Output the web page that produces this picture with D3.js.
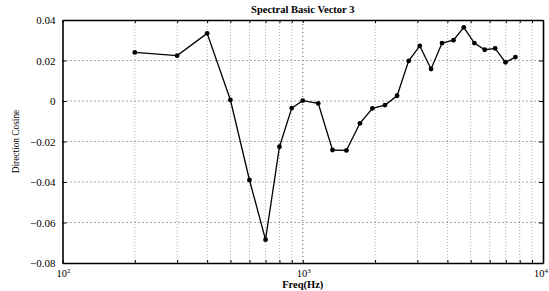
<!DOCTYPE html>
<html>
<head>
<meta charset="utf-8">
<title>Spectral Basic Vector 3</title>
<script src="https://cdnjs.cloudflare.com/ajax/libs/d3/7.8.5/d3.min.js"></script>
<style>
  body { margin: 0; background: #fff; }
  svg { display: block; font-family: "Liberation Serif", "DejaVu Serif", serif; }
  .grid-major line { stroke: #555; stroke-dasharray: 1 3; stroke-width: 1; }
  .grid-minor line { stroke: #aaa; stroke-dasharray: 1 2; stroke-width: 1; }
</style>
</head>
<body>
<div id="chart"></div>
<script>
// frequencies (Hz)
var freq = [200, 300, 400, 500, 600, 700, 800, 900, 1000, 1160, 1330, 1520,
            1730, 1950, 2200, 2470, 2760, 3070, 3420, 3800, 4240, 4680,
            5180, 5720, 6320, 6980, 7680];
// direction cosine values
var cosVal = [0.0240, 0.0224, 0.0334, 0.0005, -0.0390, -0.0685, -0.0226, -0.0035, 0.0002,
              -0.0012, -0.0242, -0.0244, -0.0110, -0.0036, -0.0020, 0.0026, 0.0198,
              0.0272, 0.0158, 0.0286, 0.0300, 0.0364, 0.0286, 0.0253, 0.0260,
              0.0191, 0.0217];
var yTicks = [-0.08, -0.06, -0.04, -0.02, 0, 0.02, 0.04];
var xMajor = [100, 1000, 10000];
var xExp = ["2", "3", "4"];
var xMinor = [200, 300, 400, 500, 600, 700, 800, 900,
              2000, 3000, 4000, 5000, 6000, 7000, 8000, 9000];

var W = 549, H = 291;
var m = {left: 62.5, right: 6, top: 20, bottom: 28};

var svg = d3.select("#chart").append("svg")
  .attr("width", W).attr("height", H);

var x = d3.scaleLog().domain([100, 10000]).range([m.left, W - m.right]);
var y = d3.scaleLinear().domain([-0.08, 0.04]).range([H - m.bottom, m.top]);

// grid
svg.append("g").attr("class", "grid-minor")
  .selectAll("line").data(xMinor).enter().append("line")
  .attr("x1", function(d) { return x(d); }).attr("x2", function(d) { return x(d); })
  .attr("y1", y(0.04)).attr("y2", y(-0.08));

var gMaj = svg.append("g").attr("class", "grid-major");
gMaj.selectAll("line.v").data([1000]).enter().append("line")
  .attr("class", "v")
  .attr("x1", function(d) { return x(d); }).attr("x2", function(d) { return x(d); })
  .attr("y1", y(0.04)).attr("y2", y(-0.08));
gMaj.selectAll("line.h").data(yTicks.slice(1, -1)).enter().append("line")
  .attr("class", "h")
  .attr("x1", x(100)).attr("x2", x(10000))
  .attr("y1", function(d) { return y(d); }).attr("y2", function(d) { return y(d); });

// axes (ticks inward, box on all sides)
var fmtY = function(d) { return d === 0 ? "0" : d3.format(".2f")(d).replace("-", "\u2212"); };
var tickVals = xMajor.concat(xMinor);

var axBottom = svg.append("g").attr("transform", "translate(0," + y(-0.08) + ")")
  .call(d3.axisBottom(x).tickValues(tickVals).tickSizeInner(-3).tickSizeOuter(0).tickFormat(""));
var axTop = svg.append("g").attr("transform", "translate(0," + y(0.04) + ")")
  .call(d3.axisTop(x).tickValues(tickVals).tickSizeInner(-3).tickSizeOuter(0).tickFormat(""));
var axLeft = svg.append("g").attr("transform", "translate(" + x(100) + ",0)")
  .call(d3.axisLeft(y).tickValues(yTicks).tickSizeInner(-4).tickSizeOuter(0).tickPadding(8).tickFormat(fmtY));
var axRight = svg.append("g").attr("transform", "translate(" + x(10000) + ",0)")
  .call(d3.axisRight(y).tickValues(yTicks).tickSizeInner(-4).tickSizeOuter(0).tickFormat(""));

[axBottom, axTop, axLeft, axRight].forEach(function(g) {
  g.attr("font-family", null);
  g.select(".domain").attr("stroke", "#000").attr("stroke-width", 1.6);
  g.selectAll(".tick line").attr("stroke", "#000");
});
axLeft.selectAll(".tick text")
  .style("font-family", "'Liberation Serif', serif").attr("font-size", 11).attr("fill", "#000")
  .attr("x", -7);

// x tick labels 10^n
var xl = svg.append("g").selectAll("text").data(xMajor).enter().append("text")
  .attr("x", function(d, i) { return x(d) - (i === 2 ? 9 : 6); })
  .attr("y", H - 14)
  .attr("font-size", 10.5).attr("fill", "#000");
xl.append("tspan").text("10");
xl.append("tspan").attr("dy", -4).attr("font-size", 7)
  .text(function(d, i) { return xExp[i]; });

// line and markers
var pts = freq.map(function(f, i) { return [f, cosVal[i]]; });
svg.append("path").datum(pts)
  .attr("fill", "none").attr("stroke", "#000").attr("stroke-width", 1.3)
  .attr("d", d3.line().x(function(d) { return x(d[0]); }).y(function(d) { return y(d[1]); }));
svg.append("g").selectAll("circle").data(pts).enter().append("circle")
  .attr("cx", function(d) { return x(d[0]); })
  .attr("cy", function(d) { return y(d[1]); })
  .attr("r", 2.4).attr("fill", "#000");

// titles
svg.append("text").attr("x", x(1000)).attr("y", 13)
  .attr("text-anchor", "middle").attr("font-size", 10.5).attr("font-weight", "bold")
  .text("Spectral Basic Vector 3");
svg.append("text").attr("x", x(1000)).attr("y", H - 3)
  .attr("text-anchor", "middle").attr("font-size", 10.5).attr("font-weight", "bold")
  .text("Freq(Hz)");
svg.append("text")
  .attr("transform", "translate(19," + ((y(0.04) + y(-0.08)) / 2) + ") rotate(-90) scale(0.85,1)")
  .attr("text-anchor", "middle").attr("font-size", 11)
  .text("Direction Cosine");
</script>
</body>
</html>
